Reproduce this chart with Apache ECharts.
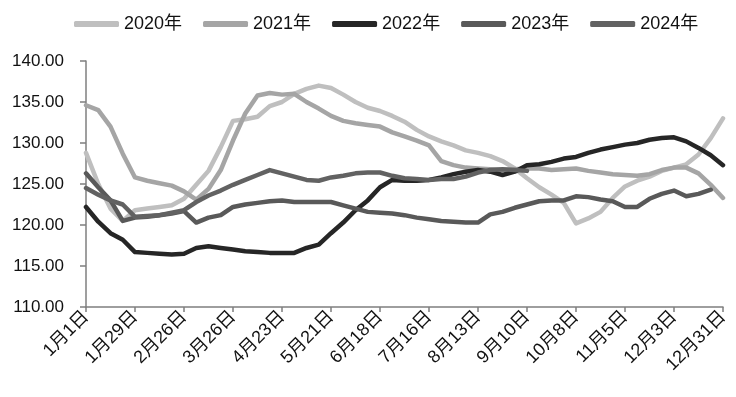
<!DOCTYPE html>
<html>
<head>
<meta charset="utf-8">
<script src="https://cdn.jsdelivr.net/npm/echarts@6/dist/echarts.min.js"></script>
<style>
html,body{margin:0;padding:0;background:#fff;}
#chart{width:736px;height:397px;}
</style>
</head>
<body>
<div id="chart"></div>
<script>
const weeks = ['1月1日','1月8日','1月15日','1月22日','1月29日','2月5日','2月12日','2月19日','2月26日','3月5日','3月12日','3月19日','3月26日','4月2日','4月9日','4月16日','4月23日','4月30日','5月7日','5月14日','5月21日','5月28日','6月4日','6月11日','6月18日','6月25日','7月2日','7月9日','7月16日','7月23日','7月30日','8月6日','8月13日','8月20日','8月27日','9月3日','9月10日','9月17日','9月24日','10月1日','10月8日','10月15日','10月22日','10月29日','11月5日','11月12日','11月19日','11月26日','12月3日','12月10日','12月17日','12月24日','12月31日'];

const seriesNames = ['2020年','2021年','2022年','2023年','2024年'];

const y2020 = [128.8,125.0,122.0,120.5,121.8,122.0,122.2,122.4,123.2,124.9,126.6,129.5,132.7,132.9,133.2,134.5,135.0,136.0,136.6,137.0,136.7,135.9,135.0,134.3,133.9,133.3,132.6,131.6,130.8,130.2,129.7,129.1,128.8,128.4,127.8,126.9,125.7,124.6,123.7,122.7,120.2,120.8,121.6,123.3,124.7,125.4,125.9,126.6,127.0,127.4,128.6,130.6,133.0];

const y2021 = [134.6,134.0,132.0,128.7,125.8,125.4,125.1,124.8,124.1,123.1,124.4,126.7,130.3,133.6,135.8,136.1,135.9,136.0,135.0,134.2,133.3,132.7,132.4,132.2,132.0,131.3,130.8,130.3,129.7,127.8,127.3,127.0,126.9,126.8,126.7,126.8,126.9,126.9,126.7,126.8,126.9,126.6,126.4,126.2,126.1,126.0,126.2,126.7,127.0,127.0,126.3,124.9,123.3];

const y2022 = [122.2,120.4,119.0,118.2,116.7,116.6,116.5,116.4,116.5,117.2,117.4,117.2,117.0,116.8,116.7,116.6,116.6,116.6,117.2,117.6,119.0,120.3,121.8,123.0,124.6,125.5,125.4,125.4,125.5,125.8,126.2,126.5,126.7,126.5,126.1,126.5,127.3,127.4,127.7,128.1,128.3,128.8,129.2,129.5,129.8,130.0,130.4,130.6,130.7,130.2,129.4,128.5,127.3];

const y2023 = [126.3,124.6,123.0,120.5,120.9,121.0,121.2,121.4,121.7,120.3,120.9,121.2,122.2,122.5,122.7,122.9,123.0,122.8,122.8,122.8,122.8,122.4,122.0,121.6,121.5,121.4,121.2,120.9,120.7,120.5,120.4,120.3,120.3,121.3,121.6,122.1,122.5,122.9,123.0,123.0,123.5,123.4,123.1,122.9,122.2,122.2,123.2,123.8,124.2,123.5,123.8,124.3];

const y2024 = [124.5,123.7,123.0,122.5,121.0,121.1,121.2,121.5,121.8,122.8,123.6,124.2,124.9,125.5,126.1,126.7,126.3,125.9,125.5,125.4,125.8,126.0,126.3,126.4,126.4,126.0,125.7,125.6,125.5,125.6,125.6,125.9,126.4,126.7,126.8,126.7,126.6];

const yTicks = {min:110, max:140, interval:5};
const colors = ['#bfbfbf','#a5a5a5','#262626','#595959','#626262'];
const allData = [y2020,y2021,y2022,y2023,y2024];

const font = '"Liberation Sans","Noto Sans CJK SC",sans-serif';
const chart = echarts.init(document.getElementById('chart'), null, {renderer:'canvas'});
chart.setOption({
  animation:false,
  backgroundColor:'#ffffff',
  color:colors,
  legend:{
    left:69, top:10,
    icon:'roundRect',
    itemWidth:45, itemHeight:6, itemGap:21,
    textStyle:{fontSize:18, color:'#111', fontFamily:font},
    data:seriesNames
  },
  grid:{left:86, right:13, top:61, bottom:90},
  xAxis:{
    type:'category',
    data:weeks,
    boundaryGap:false,
    axisLine:{lineStyle:{color:'#7f7f7f', width:1.5}},
    axisTick:{show:true, interval:3, length:5, lineStyle:{color:'#7f7f7f', width:1.5}},
    axisLabel:{interval:3, rotate:45, fontSize:18, color:'#111', fontFamily:font, margin:7}
  },
  yAxis:{
    type:'value',
    min:yTicks.min, max:yTicks.max, interval:yTicks.interval,
    splitLine:{show:false},
    axisLine:{show:true, lineStyle:{color:'#7f7f7f', width:1.5}},
    axisTick:{show:true, length:6, lineStyle:{color:'#7f7f7f', width:1.5}},
    axisLabel:{fontSize:17, color:'#111', fontFamily:font, margin:22,
      formatter:v=>v.toFixed(2)}
  },
  series:seriesNames.map((n,i)=>({
    name:n, type:'line', data:allData[i],
    symbol:'none', smooth:false,
    lineStyle:{width:4.5, color:colors[i], join:'round', cap:'round'},
    itemStyle:{color:colors[i]}
  }))
});
</script>
</body>
</html>
